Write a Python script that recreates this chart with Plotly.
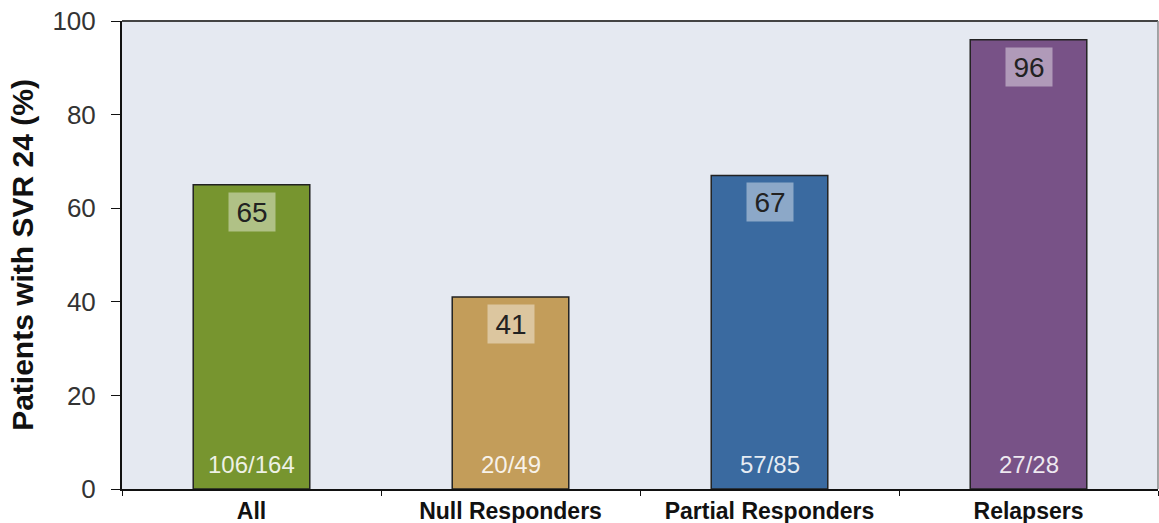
import plotly.graph_objects as go

categories = ["All", "Null Responders", "Partial Responders", "Relapsers"]
svr_values = [65, 41, 67, 96]
counts = ["106/164", "20/49", "57/85", "27/28"]
colors = ["#77952f", "#c39d5a", "#3a6aa0", "#785287"]

FONT = "Liberation Sans, Arial, sans-serif"

fig = go.Figure()
fig.add_trace(go.Bar(
    x=categories, y=svr_values, width=0.45,
    marker=dict(color=colors, line=dict(color="#222222", width=1.5)),
    hoverinfo="skip",
))

for c, v, n in zip(categories, svr_values, counts):
    fig.add_annotation(x=c, y=v, text=str(v), showarrow=False, yanchor="top", yshift=-7,
                       font=dict(family=FONT, size=28, color="#222222"),
                       bgcolor="rgba(255,255,255,0.42)", borderpad=1, width=44, height=36)
    fig.add_annotation(x=c, y=0, text=n, showarrow=False, yanchor="bottom", yshift=9,
                       font=dict(family=FONT, size=24, color="rgba(255,255,255,0.88)"))

fig.update_layout(
    width=1159, height=523,
    margin=dict(l=122, r=1, t=21, b=34),
    paper_bgcolor="white", plot_bgcolor="#e5e9f1",
    showlegend=False,
    font=dict(family=FONT, color="#222222"),
)
fig.update_xaxes(
    range=[-0.5, 3.5], tickson="boundaries", ticks="outside", ticklen=5, tickcolor="#111",
    showline=True, linecolor="#111", linewidth=2, mirror=False, automargin=False,
    tickfont=dict(family=FONT, size=23, color="#111"), showgrid=False,
    tickprefix="<b>", ticksuffix="</b>",
)
fig.update_yaxes(
    range=[0, 100], dtick=20, ticks="outside", ticklen=9, tickcolor="#111",
    showline=True, linecolor="#111", linewidth=2, showgrid=False, zeroline=False,
    automargin=False, ticklabelstandoff=10,
    tickfont=dict(family=FONT, size=26, color="#333"),
    title=dict(text="<b>Patients with SVR 24 (%)</b>", font=dict(family=FONT, size=30, color="#111"), standoff=10),
)
# top and right border of the plot area
fig.add_shape(type="line", xref="paper", yref="paper", x0=0, x1=1, y0=1, y1=1,
              line=dict(color="#444", width=2))
fig.add_shape(type="line", xref="paper", yref="paper", x0=1, x1=1, y0=0, y1=1,
              line=dict(color="#888", width=1.5))

fig.write_html("out.html", config={"displayModeBar": False},
               post_script="document.body.style.margin='0';")
